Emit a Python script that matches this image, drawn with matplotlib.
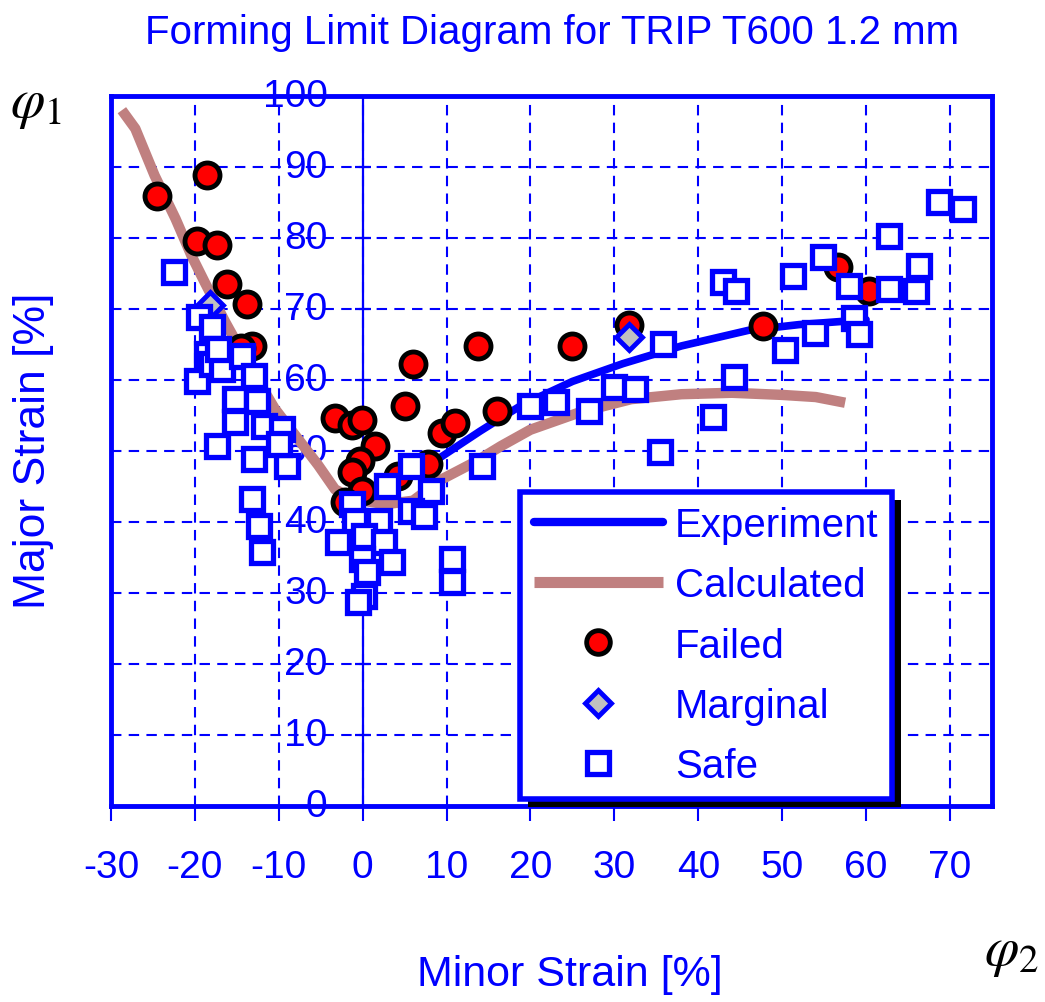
import numpy as np
import matplotlib
matplotlib.use("Agg")
import matplotlib.pyplot as plt
from matplotlib.lines import Line2D
import matplotlib.patheffects as pe

plt.rcParams['font.family'] = ['Liberation Sans', 'DejaVu Sans']
plt.rcParams['mathtext.fontset'] = 'stix'

BLUE = '#0000FF'
BROWN = '#C08080'

# ---------------- data ----------------
x_ticks = [-30, -20, -10, 0, 10, 20, 30, 40, 50, 60, 70]
y_ticks = [0, 10, 20, 30, 40, 50, 60, 70, 80, 90, 100]

exp_x = [8.5, 14, 19, 25, 31, 38, 46, 52, 60]
exp_y = [48.5, 52.8, 56.5, 59.8, 62.3, 64.8, 67.0, 67.8, 68.5]

calc_x = [-28.7, -27.1, -24.8, -22.3, -20.4, -18.8, -16.4, -13.5, -10.5, -7.7, -5.3, -3.3,
          -1.0, 2.7, 6.0, 9.4, 13.3, 16.5, 20, 26, 32, 38, 44, 50, 54, 57.5]
calc_y = [98, 95.4, 88.8, 82.7, 77.5, 73.7, 68.2, 62, 56, 51.7, 48, 44.6,
          43.2, 42.5, 43, 46, 48.4, 50.7, 53, 55.5, 57.3, 58, 58.2, 57.9, 57.6, 56.8]

failed_x = [-24.5, -18.6, -19.8, -17.4, -16.2, -13.8, -13.2, -14.5, 6.0, 13.7, 5.0, -3.3,
            -1.3, -0.1, 1.5, -0.3, -1.3, -0.1, -2.1, 9.4, 11.0, 7.8, 4.2, 16.0, 24.9,
            31.8, 47.7, 56.6, 60.4]
failed_y = [85.9, 88.9, 79.6, 79.0, 73.5, 70.7, 64.8, 64.5, 62.3, 64.8, 56.4, 54.7,
            53.6, 54.3, 50.7, 48.6, 47.0, 44.4, 42.8, 52.6, 54.0, 48.2, 46.5, 55.7, 64.8,
            67.8, 67.6, 75.9, 72.6]

marginal_x = [31.7, -18.2]
marginal_y = [66.1, 70.5]

safe_x = [-22.5, -19.5, -18.0, -19.8, -18.6, -18.0, -16.8, -14.4, -12.9, -15.2, -12.6, -15.2,
          -11.8, -9.6, -17.4, -13.0, -9.0, -13.2, -12.3, -12.0, -17.2, -10.0,
          5.8, 2.9, 8.2, -1.3, -0.9, 1.9, 5.8, 7.3, -2.9, 0.2, 2.6, -0.1, 3.5, 0.2, -0.5,
          10.6, 10.6, 14.2, 0.5,
          19.9, 23.1, 27.0, 30.0, 32.4, 35.8, 44.2, 41.8, 35.4, 50.3, 43.0, 44.5, 51.3,
          54.9, 58.0, 62.7, 62.7, 66.3, 66.0, 68.7, 71.5, 53.9, 58.6, 59.2]
safe_y = [75.2, 68.9, 67.5, 59.9, 63.7, 62.3, 61.5, 63.4, 60.6, 57.3, 57.0, 54.1,
          53.5, 53.1, 50.7, 48.9, 47.9, 43.2, 39.4, 35.8, 64.4, 51.0,
          47.9, 45.1, 44.4, 42.5, 40.1, 40.1, 41.5, 40.8, 37.2, 38.0, 37.2, 34.8, 34.4, 29.6, 28.7,
          34.8, 31.5, 47.9, 33.0,
          56.3, 56.9, 55.6, 59.0, 58.7, 65.1, 60.4, 54.8, 49.9, 64.2, 73.8, 72.5, 74.6,
          77.3, 73.2, 80.3, 72.8, 76.1, 72.5, 85.1, 84.1, 66.6, 68.8, 66.5]

# ---------------- figure ----------------
fig = plt.figure(figsize=(10.45, 10.03), dpi=100)
ax = fig.add_axes([0.1062, 0.1954, 0.8430, 0.7079])
ax.set_xlim(-30, 75)
ax.set_ylim(0, 100)

ax.set_xticks(x_ticks)
ax.set_yticks(y_ticks)
ax.grid(True, color=BLUE, linestyle=(0, (5, 3.5)), linewidth=1.5, zorder=0)
ax.set_axisbelow(True)
ax.axvline(0, color=BLUE, lw=1.6, zorder=1)

for s in ax.spines.values():
    s.set_color(BLUE)
    s.set_linewidth(3.5)

ax.tick_params(axis='x', direction='out', length=11, width=1.5, color=BLUE,
               labelcolor=BLUE, labelsize=28, pad=20)
ax.tick_params(axis='y', length=0, labelleft=False)
ax.set_xticklabels([str(t) for t in x_ticks])

# y tick labels drawn beside the x = 0 axis
for t in y_ticks:
    ax.text(-4.2, t, str(t), ha='right', va='center', color=BLUE, fontsize=28,
            zorder=1, clip_on=False)
ax.plot(np.zeros(len(y_ticks)), y_ticks, ls='none', marker='_', ms=11, mew=1.6,
        color=BLUE, zorder=1, clip_on=False)

# curves
ax.plot(calc_x, calc_y, color=BROWN, lw=7.5, solid_capstyle='butt', zorder=2)
ax.plot(exp_x, exp_y, color=BLUE, lw=5.5, solid_capstyle='round', zorder=3)

# points
ax.plot(failed_x, failed_y, ls='none', marker='o', ms=18, mfc='red', mec='black',
        mew=3.5, zorder=4)
ax.plot(marginal_x, marginal_y, ls='none', marker='D', ms=13, mfc='#C0C0C0', mec=BLUE,
        mew=3.5, zorder=5)
ax.plot(safe_x, safe_y, ls='none', marker='s', ms=16, mfc='white', mec=BLUE,
        mew=3.8, zorder=6)

# legend
handles = [
    Line2D([], [], color=BLUE, lw=6, solid_capstyle='round'),
    Line2D([], [], color=BROWN, lw=8, solid_capstyle='butt'),
    Line2D([], [], ls='none', marker='o', ms=17, mfc='red', mec='black', mew=3.5),
    Line2D([], [], ls='none', marker='D', ms=13, mfc='#C0C0C0', mec=BLUE, mew=3.5),
    Line2D([], [], ls='none', marker='s', ms=15.5, mfc='white', mec=BLUE, mew=3.8),
]
labels = ['Experiment', 'Calculated', 'Failed', 'Marginal', 'Safe']
leg = ax.legend(handles, labels, loc='lower left', bbox_to_anchor=(0.464, 0.01),
                fontsize=29, labelcolor=BLUE, frameon=True, fancybox=False,
                handlelength=3.2, handletextpad=0.3, labelspacing=0.55,
                borderpad=0.35, borderaxespad=0, numpoints=1)
frame = leg.get_frame()
frame.set_edgecolor(BLUE)
frame.set_linewidth(4)
frame.set_facecolor('white')
frame.set_alpha(1)
frame.set_path_effects([pe.SimplePatchShadow(offset=(6, -6), shadow_rgbFace='black',
                                             alpha=1.0), pe.Normal()])
leg.set_zorder(10)

# texts
fig.text(0.528, 0.967, 'Forming Limit Diagram for TRIP T600 1.2 mm', ha='center',
         va='center', color=BLUE, fontsize=29)
fig.text(0.545, 0.028, 'Minor Strain [%]', ha='center', va='center', color=BLUE,
         fontsize=31)
fig.text(0.032, 0.551, 'Major Strain [%]', ha='center', va='center', color=BLUE,
         fontsize=32, rotation=90)
fig.text(0.010, 0.895, r'$\varphi_1$', ha='left', va='center', color='black', fontsize=40)
fig.text(0.942, 0.050, r'$\varphi_2$', ha='left', va='center', color='black', fontsize=40)

fig.savefig('out.png', dpi=100)
